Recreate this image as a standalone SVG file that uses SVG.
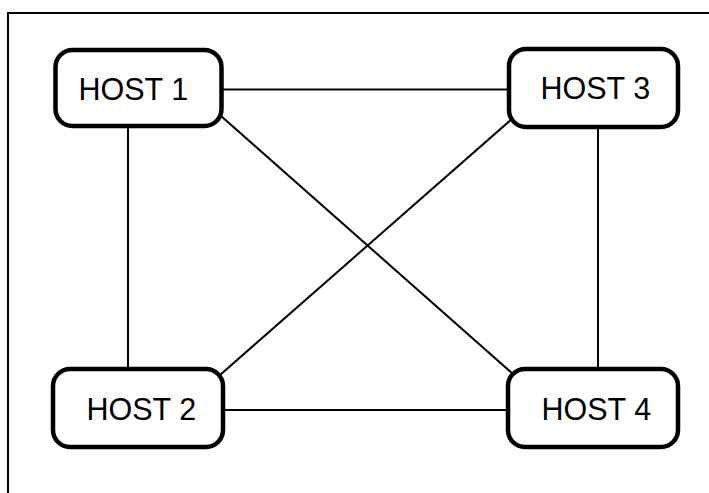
<svg xmlns="http://www.w3.org/2000/svg" width="709" height="493" viewBox="0 0 709 493">
<style>
.node rect{fill:#fff;stroke:#000;stroke-width:4.5}
.node text{font-family:"Liberation Sans",Arial,sans-serif;font-size:30.5px;fill:#000}
.conn line{stroke:#000;stroke-width:2}
</style>
<rect x="0" y="0" width="709" height="493" fill="#fff"/>
<path d="M8 500 V13 H720" fill="none" stroke="#000" stroke-width="2"/>
<g class="conn">
<line x1="221" y1="89.5" x2="509" y2="89.5"/>
<line x1="128" y1="126" x2="128" y2="369"/>
<line x1="598" y1="127" x2="598" y2="369"/>
<line x1="223" y1="410" x2="508" y2="410"/>
<line x1="221" y1="116" x2="513" y2="374"/>
<line x1="513" y1="118" x2="220" y2="375"/>
</g>
<g id="host1" class="node"><rect x="55.5" y="50" width="166" height="76" rx="17"/><text x="78.5" y="100">HOST 1</text></g>
<g id="host3" class="node"><rect x="509" y="49" width="169" height="78" rx="17"/><text x="540.5" y="99">HOST 3</text></g>
<g id="host2" class="node"><rect x="53" y="369" width="170" height="78" rx="17"/><text x="86.5" y="420">HOST 2</text></g>
<g id="host4" class="node"><rect x="508" y="369" width="170" height="78" rx="17"/><text x="541.5" y="420">HOST 4</text></g>
</svg>
